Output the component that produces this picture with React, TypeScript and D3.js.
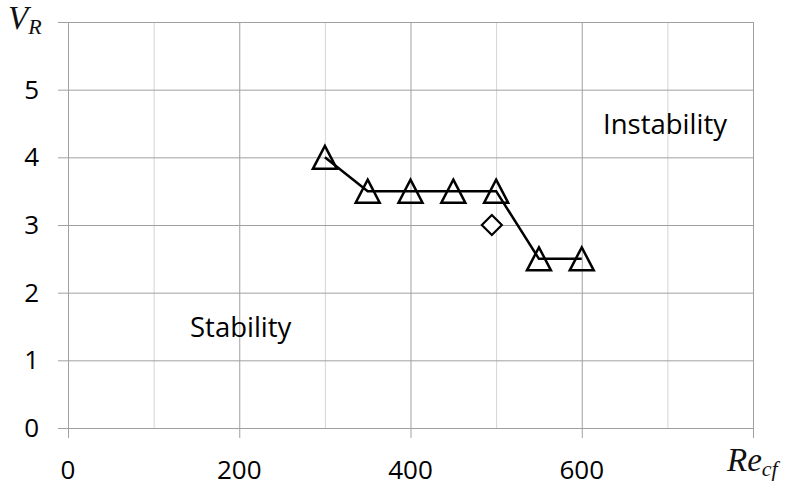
import React, { useEffect, useRef } from 'react';
import * as d3 from 'd3';

// boundary between stability and instability
const reValues = [300, 350, 400, 450, 500, 550, 600];
const vrValues = [4, 3.5, 3.5, 3.5, 3.5, 2.5, 2.5];
// single extra point (diamond)
const extraRe = [495];
const extraVr = [3];

const xTicks = [0, 100, 200, 300, 400, 500, 600, 700, 800];
const xLabels = [0, 200, 400, 600];
const yTicks = [0, 1, 2, 3, 4, 5, 6];
const yLabels = [0, 1, 2, 3, 4, 5];

const App = () => {
  const svgRef = useRef<SVGSVGElement>(null);

  useEffect(() => {
    const width = 788;
    const height = 488;
    const svg = d3.select(svgRef.current);
    svg.selectAll('*').remove();
    svg.attr('width', width).attr('height', height);

    const x = d3.scaleLinear().domain([0, 800]).range([68, 753]);
    const y = d3.scaleLinear().domain([0, 6]).range([428, 22]);
    const font = "'Open Sans', sans-serif";

    // vertical grid
    svg.append('g')
      .selectAll('line')
      .data(xTicks)
      .enter()
      .append('line')
      .attr('x1', d => x(d) + 0.5)
      .attr('x2', d => x(d) + 0.5)
      .attr('y1', y(6))
      .attr('y2', d => (d % 200 === 0 ? y(0) + 10 : y(0)))
      .attr('stroke', d => (d % 200 === 0 ? '#a0a0a0' : '#d4d4d4'))
      .attr('stroke-width', 1);

    // horizontal grid
    svg.append('g')
      .selectAll('line')
      .data(yTicks)
      .enter()
      .append('line')
      .attr('x1', x(0) - 10)
      .attr('x2', x(800))
      .attr('y1', d => y(d) + 0.5)
      .attr('y2', d => y(d) + 0.5)
      .attr('stroke', '#a0a0a0')
      .attr('stroke-width', 1);

    // tick labels
    svg.append('g')
      .selectAll('text')
      .data(yLabels)
      .enter()
      .append('text')
      .attr('x', 39)
      .attr('y', d => y(d) + 9)
      .attr('text-anchor', 'end')
      .attr('font-family', font)
      .attr('font-size', 26)
      .attr('fill', '#000')
      .text(d => d);

    svg.append('g')
      .selectAll('text')
      .data(xLabels)
      .enter()
      .append('text')
      .attr('x', d => x(d))
      .attr('y', 479)
      .attr('text-anchor', 'middle')
      .attr('font-family', font)
      .attr('font-size', 26)
      .attr('fill', '#000')
      .text(d => d);

    // axis titles
    const vr = svg.append('text')
      .attr('x', 8)
      .attr('y', 29)
      .attr('font-family', "'Liberation Serif', serif")
      .attr('font-style', 'italic')
      .attr('font-size', 33)
      .attr('fill', '#111');
    vr.append('tspan').text('V');
    vr.append('tspan').attr('font-size', 22).attr('dy', 5).text('R');

    const re = svg.append('text')
      .attr('x', 727)
      .attr('y', 471)
      .attr('font-family', "'Liberation Serif', serif")
      .attr('font-style', 'italic')
      .attr('font-size', 33)
      .attr('fill', '#111');
    re.append('tspan').text('Re');
    re.append('tspan').attr('font-size', 22).attr('dy', 5).text('cf');

    // region labels
    svg.append('text')
      .attr('x', 603)
      .attr('y', 134)
      .attr('font-family', font)
      .attr('font-size', 27.5)
      .attr('fill', '#000')
      .text('Instability');
    svg.append('text')
      .attr('x', 190)
      .attr('y', 337)
      .attr('font-family', font)
      .attr('font-size', 27.5)
      .attr('fill', '#000')
      .text('Stability');

    // boundary line
    const pts = reValues.map((d, i) => [d, vrValues[i]] as [number, number]);
    const line = d3.line<[number, number]>().x(d => x(d[0])).y(d => y(d[1]));
    svg.append('path')
      .attr('d', line(pts))
      .attr('fill', 'none')
      .attr('stroke', '#000')
      .attr('stroke-width', 2.5);

    // triangles (bbox centred on the point)
    const tw = 12;
    const th = 11.5;
    svg.append('g')
      .selectAll('path')
      .data(pts)
      .enter()
      .append('path')
      .attr('d', d => {
        const cx = x(d[0]);
        const cy = y(d[1]);
        return `M${cx},${cy - th}L${cx + tw},${cy + th}L${cx - tw},${cy + th}Z`;
      })
      .attr('fill', 'none')
      .attr('stroke', '#000')
      .attr('stroke-width', 2.5)
      .attr('stroke-linejoin', 'miter');

    // diamond
    const dm = 10;
    svg.append('g')
      .selectAll('path')
      .data(extraRe.map((d, i) => [d, extraVr[i]]))
      .enter()
      .append('path')
      .attr('d', d => {
        const cx = x(d[0]);
        const cy = y(d[1]);
        return `M${cx},${cy - dm}L${cx + dm},${cy}L${cx},${cy + dm}L${cx - dm},${cy}Z`;
      })
      .attr('fill', 'white')
      .attr('stroke', '#000')
      .attr('stroke-width', 2.2);
  }, []);

  return <svg ref={svgRef} style={{ position: 'absolute', left: 0, top: 0 }}></svg>;
};

export default App;
